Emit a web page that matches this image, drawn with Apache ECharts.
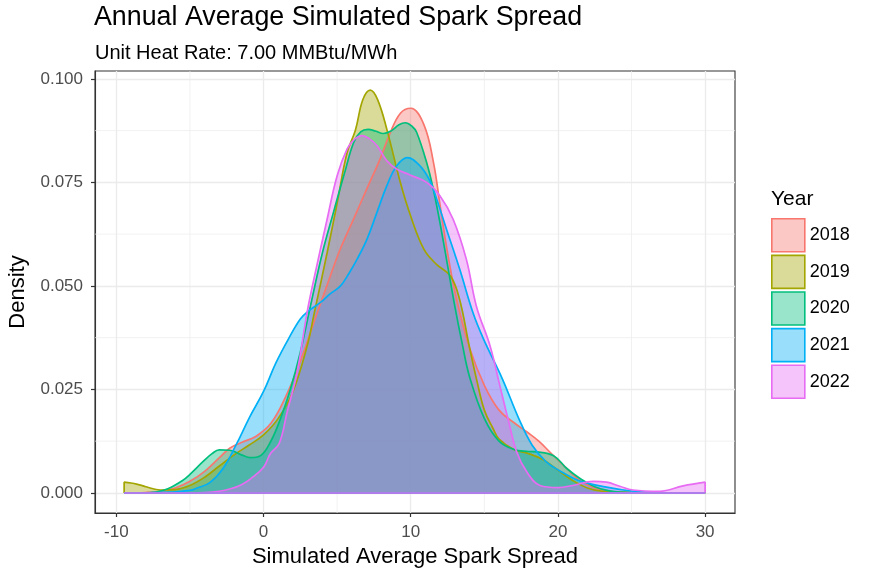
<!DOCTYPE html>
<html>
<head>
<meta charset="utf-8">
<script src="https://cdn.jsdelivr.net/npm/echarts@6/dist/echarts.min.js"></script>
<style>
html,body{margin:0;padding:0;background:#fff;}
#chart{width:870px;height:577px;}
</style>
</head>
<body>
<div id="chart"></div>
<script>
// ---- data ----
const years = ['2018', '2019', '2020', '2021', '2022'];
const lineColors = ['#F8766D', '#A3A500', '#00BF7D', '#00B0F6', '#E76BF3'];

const x2018 = [-9.47, -8, -7, -6, -5, -4, -3, -2.3, -1.5, -0.5, 0.5, 1.5, 2.5, 3.5, 4.3, 5.2, 6.1, 7, 7.9, 8.6, 9.3, 10, 10.9, 11.55, 12, 12.5, 13.1, 14, 15, 16, 17, 17.9, 18.7, 19.5, 20.6, 21.5, 22.5, 23.5, 25, 27, 30];
const y2018 = [0, 0.0001, 0.0004, 0.0012, 0.0028, 0.0052, 0.0085, 0.0108, 0.0122, 0.0137, 0.0168, 0.0232, 0.0318, 0.042, 0.05, 0.0588, 0.066, 0.0733, 0.0805, 0.0869, 0.0917, 0.0929, 0.0889, 0.0797, 0.0693, 0.058, 0.047, 0.035, 0.026, 0.02, 0.017, 0.0147, 0.0125, 0.0097, 0.0059, 0.003, 0.0012, 0.0004, 0.0001, 0, 0];

const x2019 = [-9.47, -9.47, -9, -8.5, -8, -7.5, -7, -6, -5, -4, -3, -2, -1, 0, 1, 2, 3, 3.42, 4.32, 5, 5.67, 6.24, 6.75, 7.25, 7.75, 8.4, 9.3, 10, 10.9, 11.75, 12.7, 13.3, 14, 14.5, 15, 15.6, 16, 17, 18, 19, 20, 21, 22, 23, 25, 30];
const y2019 = [0, 0.0026, 0.0024, 0.002, 0.0015, 0.001, 0.0007, 0.0008, 0.0018, 0.0038, 0.0065, 0.0092, 0.0115, 0.014, 0.018, 0.0245, 0.036, 0.043, 0.058, 0.07, 0.0821, 0.0876, 0.095, 0.0973, 0.095, 0.0875, 0.0749, 0.0668, 0.0588, 0.0552, 0.0524, 0.047, 0.035, 0.027, 0.02, 0.0155, 0.013, 0.0105, 0.0095, 0.008, 0.0055, 0.003, 0.0012, 0.0004, 0.0001, 0];

const x2020 = [-9.47, -8, -7.3, -6.5, -5.5, -5, -4.1, -3.5, -3, -2.3, -1.5, -0.9, -0.2, 0.47, 1.15, 1.83, 2.5, 3.19, 4, 4.77, 5.56, 6.13, 6.6, 7.1, 7.6, 8.14, 8.7, 9.2, 9.63, 10.1, 10.4, 11.08, 11.53, 12, 12.5, 13, 13.5, 14, 15, 16, 17, 18, 18.6, 19.7, 20.6, 21.5, 22.5, 23.5, 25, 30];
const y2020 = [0, 0, 0.0002, 0.001, 0.003, 0.0045, 0.0076, 0.0095, 0.0104, 0.0103, 0.0092, 0.0085, 0.009, 0.0123, 0.0179, 0.0251, 0.034, 0.0452, 0.058, 0.068, 0.078, 0.0847, 0.0872, 0.0878, 0.0874, 0.0868, 0.0875, 0.0889, 0.0894, 0.0885, 0.0871, 0.0798, 0.0734, 0.065, 0.055, 0.045, 0.036, 0.028, 0.018, 0.0125, 0.0105, 0.01, 0.0099, 0.009, 0.0059, 0.0035, 0.0015, 0.0005, 0.0001, 0];

const x2021 = [-9.47, -8, -7.2, -6.35, -5, -4.5, -3.65, -2.75, -1.85, -0.96, 0, 0.84, 1.74, 2.5, 3, 3.87, 4.5, 5.23, 5.8, 6.35, 7.03, 7.7, 8.38, 9.05, 9.77, 10.63, 11.3, 11.76, 12.43, 13.33, 14.23, 14.94, 16.23, 17.35, 18.25, 19.15, 20.04, 21.4, 23.3, 25.1, 26.5, 30];
const y2021 = [0, 0, 0.0001, 0.0002, 0.0006, 0.0012, 0.0025, 0.0059, 0.0117, 0.0182, 0.0245, 0.0314, 0.0375, 0.042, 0.0438, 0.046, 0.048, 0.05, 0.053, 0.0564, 0.0613, 0.0677, 0.0742, 0.079, 0.081, 0.079, 0.0754, 0.071, 0.0637, 0.054, 0.0435, 0.0372, 0.0275, 0.0179, 0.0115, 0.0077, 0.0055, 0.003, 0.0014, 0.0004, 0.0001, 0];

const x2022 = [-9.47, -6, -4, -3, -2.24, -1.5, -0.88, 0, 0.47, 1.07, 1.6, 2.28, 2.96, 3.42, 4.32, 5, 5.68, 6.2, 6.69, 7.2, 7.7, 8.38, 9.05, 9.95, 11.08, 11.98, 12.88, 13.78, 14.46, 15.39, 16, 16.6, 17.2, 17.88, 18.78, 20, 21, 22.4, 23.3, 24.2, 25.1, 26.9, 28.5, 30, 30];
const y2022 = [0, 0, 0.0001, 0.0004, 0.001, 0.002, 0.0034, 0.0062, 0.0095, 0.012, 0.0195, 0.0291, 0.0436, 0.0516, 0.0661, 0.0766, 0.0831, 0.0855, 0.0863, 0.0855, 0.0839, 0.0802, 0.0782, 0.0768, 0.075, 0.0718, 0.0661, 0.0564, 0.0451, 0.0355, 0.0267, 0.018, 0.0099, 0.0051, 0.0018, 0.0013, 0.0018, 0.0028, 0.0026, 0.0016, 0.0007, 0.0004, 0.0017, 0.0026, 0];

const xTicks = [-10, 0, 10, 20, 30];
const xMinor = [-5, 5, 15, 25];
const yTicks = [0, 0.025, 0.05, 0.075, 0.1];
const yMinor = [0.0125, 0.0375, 0.0625, 0.0875];

const titleText = 'Annual Average Simulated Spark Spread';
const subtitleText = 'Unit Heat Rate: 7.00 MMBtu/MWh';
const xName = 'Simulated Average Spark Spread';
const yName = 'Density';
const legendTitle = 'Year';

// ---- build ----
const xs = [x2018, x2019, x2020, x2021, x2022];
const ys = [y2018, y2019, y2020, y2021, y2022];
const FILL_ALPHA = 0.4;
function rgba(hex, a) {
  const n = parseInt(hex.slice(1), 16);
  return 'rgba(' + ((n >> 16) & 255) + ',' + ((n >> 8) & 255) + ',' + (n & 255) + ',' + a + ')';
}
const FONT = 'Liberation Sans, Arial, Helvetica, sans-serif';

const densitySeries = years.map((yr, i) => {
  const xsI = xs[i];
  return {
    name: yr,
    type: 'line',
    data: xsI.map((x, j) => [x, ys[i][j]]),
    smooth: 0.4,
    showSymbol: false,
    symbol: 'none',
    z: 3,
    lineStyle: { color: lineColors[i], width: 1.7 },
    itemStyle: { color: lineColors[i] },
    areaStyle: { color: rgba(lineColors[i], FILL_ALPHA), opacity: 1 },
    emphasis: { disabled: true },
    // polygon outline along the baseline (ggplot draws the full outline)
    markLine: {
      silent: true, symbol: ['none', 'none'], animation: false,
      label: { show: false },
      lineStyle: { color: lineColors[i], width: 1.7, type: 'solid' },
      data: [[{ coord: [xsI[0], 0] }, { coord: [xsI[xsI.length - 1], 0] }]]
    }
  };
});

const minorX = {
  type: 'custom', silent: true, z: 1,
  data: xMinor.map(v => [v, 0]),
  encode: { x: 0, y: 1 },
  renderItem: (params, api) => {
    const cs = params.coordSys;
    const p = api.coord([api.value(0), 0]);
    return { type: 'line', shape: { x1: p[0], y1: cs.y, x2: p[0], y2: cs.y + cs.height },
      style: { stroke: '#ebebeb', lineWidth: 0.7 } };
  }
};
const minorY = {
  type: 'custom', silent: true, z: 1,
  data: yMinor.map(v => [0, v]),
  encode: { x: 0, y: 1 },
  renderItem: (params, api) => {
    const cs = params.coordSys;
    const p = api.coord([0, api.value(1)]);
    return { type: 'line', shape: { x1: cs.x, y1: p[1], x2: cs.x + cs.width, y2: p[1] },
      style: { stroke: '#ebebeb', lineWidth: 0.7 } };
  }
};

const chart = echarts.init(document.getElementById('chart'), null, { renderer: 'canvas' });
chart.setOption({
  animation: false,
  backgroundColor: '#ffffff',
  textStyle: { fontFamily: FONT },
  title: [
    { text: titleText, left: 94, top: 4.5, padding: 0, textStyle: { fontFamily: FONT, fontSize: 26.8, fontWeight: 'normal', color: '#000' } },
    { text: subtitleText, left: 95, top: 43, padding: 0, textStyle: { fontFamily: FONT, fontSize: 20, fontWeight: 'normal', color: '#000' } },
    { text: legendTitle, left: 771, top: 189, padding: 0, textStyle: { fontFamily: FONT, fontSize: 21, fontWeight: 'normal', color: '#000' } }
  ],
  legend: {
    orient: 'vertical', left: 771, top: 218, padding: 0,
    itemWidth: 33, itemHeight: 33, itemGap: 2,
    icon: 'rect',
    selectedMode: false,
    textStyle: { fontFamily: FONT, fontSize: 18, color: '#000' },
    data: years.map((yr, i) => ({
      name: yr,
      itemStyle: { color: rgba(lineColors[i], FILL_ALPHA), borderColor: lineColors[i], borderWidth: 1.6 }
    }))
  },
  grid: { left: 95, right: 135, top: 71, bottom: 64, containLabel: false, outerBoundsMode: 'none',
    show: true, borderColor: '#333333', borderWidth: 1.1, backgroundColor: 'transparent' },
  xAxis: {
    type: 'value', min: -11.45, max: 32.03,
    name: xName, nameLocation: 'middle', nameGap: 33,
    nameTextStyle: { fontFamily: FONT, fontSize: 22, color: '#000' },
    axisLine: { show: true, onZero: false, lineStyle: { color: '#333333', width: 1.1 } },
    axisTick: { show: true, inside: false, length: 4, lineStyle: { color: '#333333', width: 1.2 }, customValues: xTicks },
    axisLabel: { customValues: xTicks, fontSize: 17, color: '#4d4d4d', margin: 11, fontFamily: FONT },
    splitLine: { show: true, lineStyle: { color: '#ebebeb', width: 1.3 } }
  },
  yAxis: {
    type: 'value', min: -0.00485, max: 0.1019,
    name: yName, nameLocation: 'middle', nameGap: 66, nameRotate: 90,
    nameTextStyle: { fontFamily: FONT, fontSize: 22, color: '#000' },
    axisLine: { show: true, onZero: false, lineStyle: { color: '#333333', width: 1.1 } },
    axisTick: { show: true, inside: false, length: 4, lineStyle: { color: '#333333', width: 1.2 }, customValues: yTicks },
    axisLabel: { customValues: yTicks, fontSize: 17, color: '#4d4d4d', margin: 12, fontFamily: FONT,
      formatter: v => v.toFixed(3) },
    splitLine: { show: true, lineStyle: { color: '#ebebeb', width: 1.3 } }
  },
  series: [minorX, minorY].concat(densitySeries)
});
</script>
</body>
</html>
